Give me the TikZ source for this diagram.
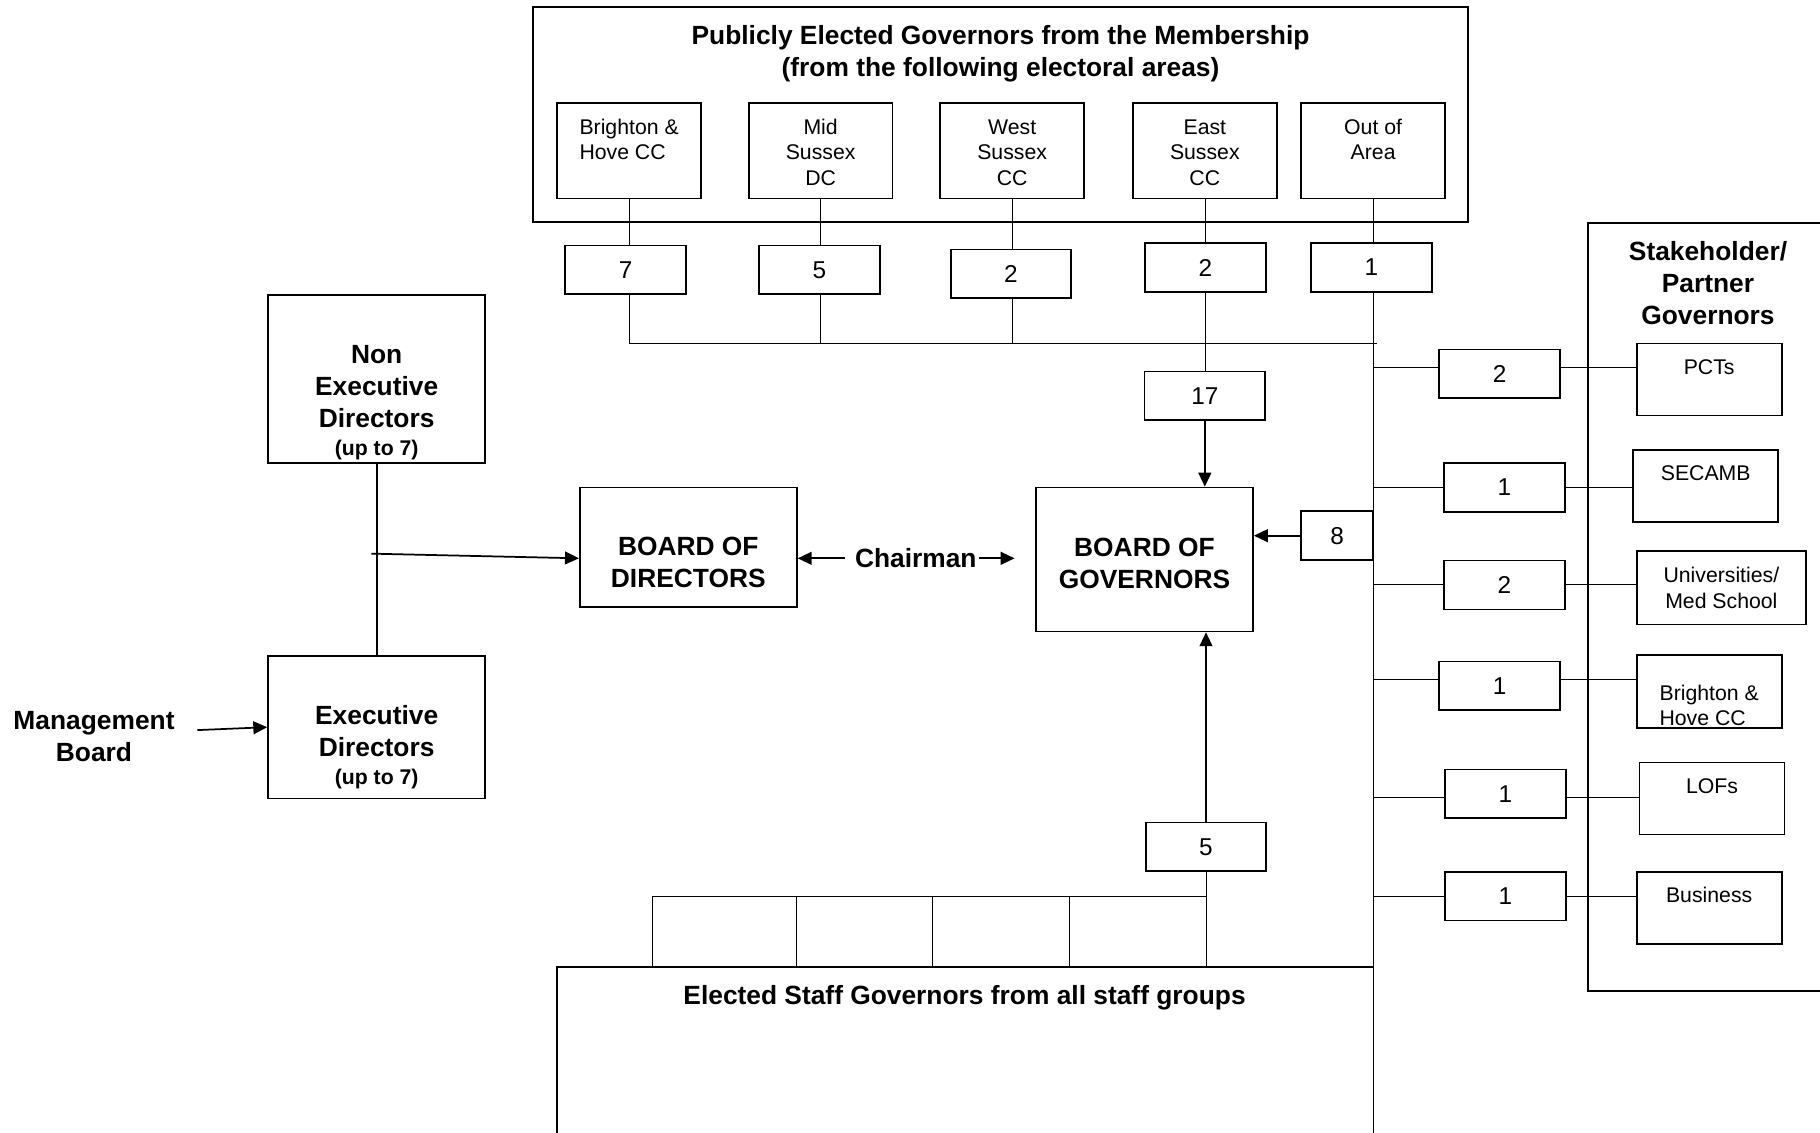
\documentclass[tikz,border=0pt]{standalone}
\usepackage{fontspec}
\setmainfont{Liberation Sans}
\usetikzlibrary{arrows.meta,backgrounds}
\tikzstyle{box}=[draw,fill=white,inner sep=0pt,align=center]
\tikzstyle{area}=[box,minimum width=124pt,minimum height=82pt,font=\fontsize{18.3}{22}\selectfont]
\tikzstyle{num}=[box,minimum width=104pt,minimum height=42pt,font=\fontsize{21}{25}\selectfont]
\tikzstyle{stake}=[box,minimum width=125pt,minimum height=62pt,font=\fontsize{18.3}{22}\selectfont]
\tikzstyle{hd}=[inner sep=0pt,align=center,font=\bfseries\fontsize{22.7}{27.5}\selectfont]
\tikzstyle{board}=[box,hd,minimum width=187pt]
\tikzstyle{arr}=[-{Triangle[length=12pt,width=11pt]}]
\newcommand{\upto}{{\fontsize{18.3}{26}\selectfont (up to 7)}}
\begin{document}
\begin{tikzpicture}[x=1pt,y=-1pt,line width=1.5pt]
\useasboundingbox (0,0) rectangle (1568,976);
% publicly elected governors
\node[draw,minimum width=806pt,minimum height=185pt] (pub) at (862,98.5) {};
\node[hd] (pubtxt) at (862,46) {Publicly Elected Governors from the Membership\\(from the following electoral areas)};
\node[area,align=left] (bh) at (542,130) {\strut Brighton \&\\Hove CC\\\mbox{}};
\node[area] (mid) at (707,130) {\strut Mid\\Sussex\\DC};
\node[area] (west) at (872,130) {\strut West\\Sussex\\CC};
\node[area] (east) at (1038,130) {\strut East\\Sussex\\CC};
\node[area] (out) at (1183,130) {\strut Out of\\Area\\\mbox{}};
\node[num] (n7) at (539,232.5) {7};
\node[num] (n5) at (706,232.5) {5};
\node[num] (n2w) at (871,236) {2};
\node[num] (n2e) at (1038.5,230.5) {2};
\node[num] (n1o) at (1181.5,230.5) {1};
\node[num] (n17) at (1038,341) {17};
\coordinate (busl) at (542,296);
\coordinate (busr) at (1186,296);
% boards
\node[board,minimum height=103pt] (bod) at (593,471.5) {\rule{0pt}{15pt}\\BOARD OF\\DIRECTORS};
\node[board,minimum height=124pt] (bog) at (986,482) {\rule{0pt}{22pt}BOARD OF\\GOVERNORS};
\node[hd] (chair) at (789,481) {Chairman};
\node[num,minimum width=62pt] (n8) at (1152,461.5) {8};
% directors
\node[board,minimum height=145pt] (ned) at (324.5,326.5) {\rule{0pt}{29pt}\\Non\\Executive\\Directors\\[-3pt]\upto};
\node[board,minimum height=123pt] (exec) at (324.5,626.5) {\rule{0pt}{23pt}\\Executive\\Directors\\[-3pt]\upto};
\node[hd] (mgmt) at (81,634.5) {Management\\Board};
\coordinate (nedx) at (320,477);
\coordinate (mbo) at (170,629);
% stakeholder / partner governors
\draw (1570,192) -- (1368,192) -- (1368,854) -- (1570,854);
\node[hd] (sttl) at (1471.5,244) {Stakeholder/\\Partner\\Governors};
\node[stake] (pcts) at (1472.5,327) {PCTs\\\mbox{}};
\node[stake] (secamb) at (1469.5,419) {SECAMB\\\mbox{}};
\node[stake,minimum width=146pt,minimum height=63pt] (uni) at (1483,506.5) {Universities/\\Med School};
\node[stake,minimum height=63pt,align=left] (bhcc) at (1472.5,595.5) {\strut\\Brighton \&\\Hove CC};
\node[stake] (lofs) at (1475,688) {LOFs\\\mbox{}};
\node[stake] (bus) at (1472.5,782) {Business\\\mbox{}};
\node[num] (np) at (1292,322) {2};
\node[num] (ns) at (1296,420) {1};
\node[num] (nu) at (1296,504) {2};
\node[num] (nb) at (1292,591) {1};
\node[num] (nl) at (1297,684) {1};
\node[num] (nbu) at (1297,772) {1};
\coordinate (trk) at (1183,980);
% staff governors
\draw (480,980) -- (480,833) -- (1183,833);
\node[hd] (stf) at (831,860) {Elected Staff Governors from all staff groups};
\node[num] (n5s) at (1039,729.5) {5};
\coordinate (sbl) at (562,772);
\coordinate (sbr) at (1039,772);
\begin{scope}[on background layer,line width=1.5pt]
\draw (busl) -- (busr);
\draw (bh) -- (busl);
\draw (mid) -- (mid |- busl);
\draw (west) -- (west |- busl);
\draw (east) -- (n17);
\draw (out) -- (trk);
\foreach \y/\b in {316.5/pcts,420/secamb,503/uni,585/bhcc,687/lofs,772/bus}{
  \coordinate (r) at (1183,\y);
  \draw (r) -- (r -| \b.west);
}
\draw (sbl) -- (sbr);
\draw (n5s) -- (n5s |- 0,833);
\foreach \x in {562,686,803,921} \draw (\x,772) -- (\x,833);
\end{scope}
\draw[arr] (n17.south) -- (n17.south |- bog.north);
\draw[arr] (n5s.north) -- (n5s.north |- bog.south);
\draw[arr] (n8.west) -- (n8.west -| bog.east);
\draw[arr] ([xshift=-8pt]chair.west) -- (chair.west -| bod.east);
\draw[arr] ([xshift=1pt]chair.east) -- ([xshift=32pt]chair.east);
\draw (ned.south) -- (exec.north);
\draw[arr] (nedx) -- ([yshift=-9.5pt]bod.west);
\draw[arr] (mbo) -- (exec.west);
\end{tikzpicture}
\end{document}
